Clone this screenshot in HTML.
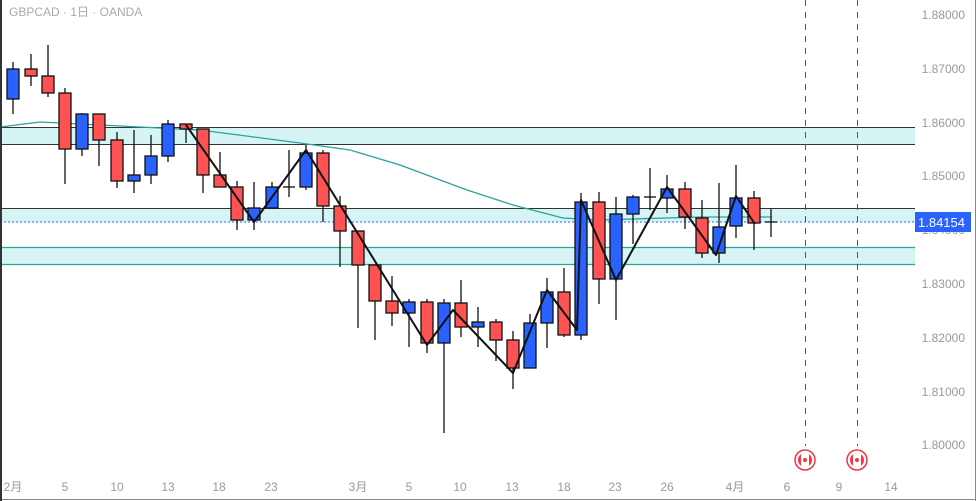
<!DOCTYPE html>
<html><head><meta charset="utf-8"><style>
html,body{margin:0;padding:0;background:#fff;}
svg{display:block;font-family:"Liberation Sans","Noto Sans CJK JP",sans-serif;}
</style></head><body>
<svg width="976" height="501" viewBox="0 0 976 501" xmlns="http://www.w3.org/2000/svg">
<rect x="0" y="0" width="976" height="501" fill="#fff"/>
<!-- zones -->
<rect x="0" y="127" width="915" height="17" fill="#d6f4f4"/>
<line x1="0" y1="127.5" x2="915" y2="127.5" stroke="#333" stroke-width="1"/>
<line x1="0" y1="144.5" x2="915" y2="144.5" stroke="#333" stroke-width="1"/>
<rect x="0" y="208" width="915" height="14" fill="#d6f4f4"/>
<line x1="0" y1="208.5" x2="915" y2="208.5" stroke="#333" stroke-width="1"/>
<rect x="0" y="247" width="915" height="18" fill="#d6f4f4"/>
<line x1="0" y1="247.5" x2="915" y2="247.5" stroke="#26a69a" stroke-width="1.2"/>
<line x1="0" y1="264.5" x2="915" y2="264.5" stroke="#26a69a" stroke-width="1.2"/>
<line x1="0" y1="222" x2="915" y2="222" stroke="#2962ff" stroke-width="1" stroke-dasharray="2,2"/>
<!-- dashed verticals -->
<line x1="805.5" y1="0" x2="805.5" y2="446" stroke="#555" stroke-dasharray="6,6"/>
<line x1="857.5" y1="0" x2="857.5" y2="446" stroke="#555" stroke-dasharray="6,6"/>
<!-- MA -->
<polyline fill="none" stroke="#26a69a" stroke-width="1.3" points="0,127 40,122 100,125 200,130 300,143 350,150 400,165 467,190 513,205 563,218 600,220 700,217 772,217"/>
<!-- candles -->
<g stroke="#111" stroke-width="1.3">
<line x1="13" y1="62" x2="13" y2="114"/><rect x="7" y="69" width="12" height="30" fill="#2962ff"/>
<line x1="31" y1="54" x2="31" y2="86"/><rect x="25" y="69" width="12" height="7" fill="#ff5252"/>
<line x1="48" y1="45" x2="48" y2="97"/><rect x="42" y="76" width="12" height="17" fill="#ff5252"/>
<line x1="65" y1="88" x2="65" y2="184"/><rect x="59" y="93" width="12" height="56" fill="#ff5252"/>
<line x1="82" y1="113" x2="82" y2="156"/><rect x="76" y="114" width="12" height="35" fill="#2962ff"/>
<line x1="99" y1="114" x2="99" y2="166"/><rect x="93" y="114" width="12" height="26" fill="#ff5252"/>
<line x1="117" y1="132" x2="117" y2="188"/><rect x="111" y="140" width="12" height="41" fill="#ff5252"/>
<line x1="134" y1="130" x2="134" y2="193"/><rect x="128" y="175" width="12" height="6" fill="#2962ff"/>
<line x1="151" y1="135" x2="151" y2="184"/><rect x="145" y="156" width="12" height="19" fill="#2962ff"/>
<line x1="168" y1="120" x2="168" y2="162"/><rect x="162" y="124" width="12" height="32" fill="#2962ff"/>
<line x1="186" y1="124" x2="186" y2="143"/><rect x="180" y="124" width="12" height="5" fill="#ff5252"/>
<line x1="203" y1="129" x2="203" y2="193"/><rect x="197" y="129" width="12" height="46" fill="#ff5252"/>
<line x1="220" y1="152" x2="220" y2="187"/><rect x="214" y="175" width="12" height="12" fill="#ff5252"/>
<line x1="237" y1="181" x2="237" y2="230"/><rect x="231" y="187" width="12" height="33" fill="#ff5252"/>
<line x1="254" y1="182" x2="254" y2="230"/><rect x="248" y="208" width="12" height="12" fill="#2962ff"/>
<line x1="272" y1="182" x2="272" y2="197"/><rect x="266" y="187" width="12" height="21" fill="#2962ff"/>
<line x1="289" y1="150" x2="289" y2="197"/><line x1="283" y1="187" x2="295" y2="187"/>
<line x1="306" y1="145" x2="306" y2="190"/><rect x="300" y="153" width="12" height="34" fill="#2962ff"/>
<line x1="323" y1="150" x2="323" y2="222"/><rect x="317" y="153" width="12" height="53" fill="#ff5252"/>
<line x1="340" y1="196" x2="340" y2="267"/><rect x="334" y="206" width="12" height="25" fill="#ff5252"/>
<line x1="358" y1="231" x2="358" y2="328"/><rect x="352" y="231" width="12" height="34" fill="#ff5252"/>
<line x1="375" y1="265" x2="375" y2="340"/><rect x="369" y="265" width="12" height="36" fill="#ff5252"/>
<line x1="392" y1="276" x2="392" y2="326"/><rect x="386" y="301" width="12" height="12" fill="#ff5252"/>
<line x1="409" y1="299" x2="409" y2="347"/><rect x="403" y="302" width="12" height="11" fill="#2962ff"/>
<line x1="427" y1="299" x2="427" y2="353"/><rect x="421" y="302" width="12" height="41" fill="#ff5252"/>
<line x1="444" y1="299" x2="444" y2="433"/><rect x="438" y="303" width="12" height="40" fill="#2962ff"/>
<line x1="461" y1="280" x2="461" y2="337"/><rect x="455" y="303" width="12" height="24" fill="#ff5252"/>
<line x1="478" y1="307" x2="478" y2="347"/><rect x="472" y="322" width="12" height="5" fill="#2962ff"/>
<line x1="496" y1="319" x2="496" y2="361"/><rect x="490" y="322" width="12" height="18" fill="#ff5252"/>
<line x1="513" y1="331" x2="513" y2="389"/><rect x="507" y="340" width="12" height="28" fill="#ff5252"/>
<line x1="530" y1="314" x2="530" y2="368"/><rect x="524" y="323" width="12" height="45" fill="#2962ff"/>
<line x1="547" y1="278" x2="547" y2="348"/><rect x="541" y="292" width="12" height="31" fill="#2962ff"/>
<line x1="564" y1="268" x2="564" y2="337"/><rect x="558" y="292" width="12" height="43" fill="#ff5252"/>
<line x1="581" y1="193" x2="581" y2="340"/><rect x="575" y="202" width="12" height="133" fill="#2962ff"/>
<line x1="599" y1="192" x2="599" y2="304"/><rect x="593" y="202" width="12" height="77" fill="#ff5252"/>
<line x1="616" y1="197" x2="616" y2="320"/><rect x="610" y="214" width="12" height="65" fill="#2962ff"/>
<line x1="633" y1="195" x2="633" y2="244"/><rect x="627" y="197" width="12" height="17" fill="#2962ff"/>
<line x1="650" y1="168" x2="650" y2="210"/><line x1="644" y1="197" x2="656" y2="197"/>
<line x1="667" y1="175" x2="667" y2="213"/><rect x="661" y="189" width="12" height="9" fill="#2962ff"/>
<line x1="685" y1="182" x2="685" y2="229"/><rect x="679" y="189" width="12" height="28" fill="#ff5252"/>
<line x1="702" y1="200" x2="702" y2="258"/><rect x="696" y="218" width="12" height="35" fill="#ff5252"/>
<line x1="719" y1="183" x2="719" y2="263"/><rect x="713" y="227" width="12" height="26" fill="#2962ff"/>
<line x1="736" y1="165" x2="736" y2="238"/><rect x="730" y="198" width="12" height="28" fill="#2962ff"/>
<line x1="754" y1="191" x2="754" y2="250"/><rect x="748" y="198" width="12" height="25" fill="#ff5252"/>
<line x1="771" y1="209" x2="771" y2="237"/><line x1="765" y1="222" x2="777" y2="222"/>
</g>
<!-- zigzag -->
<polyline fill="none" stroke="#111" stroke-width="2" stroke-linejoin="round" points="186,125 254,222 306,150 427,345 453,310 513,373 547,290 577,330 581,200 616,280 667,187 716,255 736,196 755,224"/>
<!-- axis -->
<line x1="975.5" y1="0" x2="975.5" y2="501" stroke="#888"/>
<line x1="0" y1="499.5" x2="976" y2="499.5" stroke="#888"/>
<line x1="1" y1="0" x2="1" y2="501" stroke="#333" stroke-width="2"/>
<g fill="#999" font-size="12" text-anchor="end">
<text x="965" y="19">1.88000</text>
<text x="965" y="73">1.87000</text>
<text x="965" y="127">1.86000</text>
<text x="965" y="180">1.85000</text>
<text x="965" y="234">1.84000</text>
<text x="965" y="288">1.83000</text>
<text x="965" y="342">1.82000</text>
<text x="965" y="396">1.81000</text>
<text x="965" y="449">1.80000</text>
</g>
<rect x="915" y="212" width="56" height="20" fill="#2962ff"/>
<text x="965" y="227" fill="#fff" font-size="13" text-anchor="end">1.84154</text>
<g fill="#999" font-size="12" text-anchor="middle">
<text x="13" y="491">2月</text><text x="65" y="491">5</text><text x="117" y="491">10</text><text x="168" y="491">13</text><text x="219" y="491">18</text><text x="271" y="491">23</text>
<text x="358" y="491">3月</text><text x="409" y="491">5</text><text x="460" y="491">10</text><text x="512" y="491">13</text><text x="564" y="491">18</text><text x="615" y="491">23</text><text x="667" y="491">26</text>
<text x="735" y="491">4月</text><text x="787" y="491">6</text><text x="839" y="491">9</text><text x="891" y="491">14</text>
</g>
<text x="9" y="16" fill="#aaa" font-size="12">GBPCAD · 1日 · OANDA</text>
<!-- flags -->
<g>
<circle cx="805" cy="460" r="10" fill="#fff" stroke="#f23645" stroke-width="1.5"/>
<rect x="798" y="453" width="14" height="14" rx="7" fill="#f23645"/>
<rect x="801" y="453" width="8" height="14" fill="#fff"/>
<circle cx="805" cy="460" r="2" fill="#f23645"/>
<circle cx="857" cy="460" r="10" fill="#fff" stroke="#f23645" stroke-width="1.5"/>
<rect x="850" y="453" width="14" height="14" rx="7" fill="#f23645"/>
<rect x="853" y="453" width="8" height="14" fill="#fff"/>
<circle cx="857" cy="460" r="2" fill="#f23645"/>
</g>
</svg>
</body></html>
